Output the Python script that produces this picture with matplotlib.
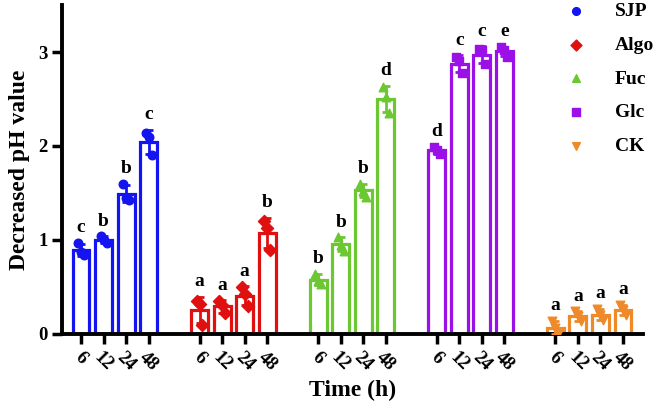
import matplotlib.pyplot as plt
import numpy as np

plt.rcParams['font.family'] = 'Liberation Serif'
plt.rcParams['font.weight'] = 'bold'

groups = ['SJP', 'Algo', 'Fuc', 'Glc', 'CK']
times = ['6', '12', '24', '48']
colors = ['#1414F0', '#E01010', '#6CC832', '#9A10E6', '#EE8A2A']
markers = ['o', 'D', '^', 's', 'v']

# three replicates per time point
sjp = [[0.97, 0.87, 0.84], [1.04, 1.00, 0.97], [1.60, 1.45, 1.43], [2.14, 2.10, 1.90]]
algo = [[0.35, 0.32, 0.10], [0.35, 0.31, 0.22], [0.50, 0.42, 0.30], [1.20, 1.13, 0.89]]
fuc = [[0.64, 0.56, 0.53], [1.03, 0.95, 0.88], [1.60, 1.52, 1.46], [2.63, 2.52, 2.35]]
glc = [[1.99, 1.96, 1.91], [2.95, 2.90, 2.78], [3.03, 3.02, 2.87], [3.05, 3.02, 2.95]]
ck = [[0.14, 0.06, 0.00], [0.24, 0.19, 0.14], [0.27, 0.20, 0.15], [0.31, 0.25, 0.20]]
data = [sjp, algo, fuc, glc, ck]

letters = [['c', 'b', 'b', 'c'],
           ['a', 'a', 'a', 'b'],
           ['b', 'b', 'b', 'd'],
           ['d', 'c', 'c', 'e'],
           ['a', 'a', 'a', 'a']]

fig = plt.figure(figsize=(6.6, 4.19), dpi=100)
ax = fig.add_axes([0.094, 0.203, 0.880, 0.785])

group_step = 5.25
jitter = np.array([-0.13, 0.0, 0.13])
xticks, xlabels = [], []
for g, (name, vals) in enumerate(zip(groups, data)):
    c = colors[g]
    for i, reps in enumerate(vals):
        x = g * group_step + i
        reps = np.array(reps)
        m, sd = reps.mean(), reps.std(ddof=1)
        ax.bar(x, m, width=0.75, facecolor='white', edgecolor=c, linewidth=2.3, zorder=2)
        ax.errorbar(x, m, yerr=sd, color=c, capsize=3, capthick=2, elinewidth=2, zorder=3)
        ax.scatter(x + jitter, reps, marker=markers[g], color=c, s=38, zorder=4,
                   label=name if i == 0 else None)
        top = max(reps.max(), m + sd)
        ax.text(x, top + 0.07, letters[g][i], ha='center', va='bottom',
                fontsize=14, fontweight='bold')
        xticks.append(x)
        xlabels.append(times[i])

ax.set_xlim(-0.84, 4 * group_step + 3 + 0.88)
ax.set_ylim(0, 3.5)
ax.set_yticks([0, 1, 2, 3])
ax.set_xticks(xticks)
ax.set_xticklabels(xlabels, rotation=-45, ha='center', va='top')
ax.tick_params(axis='both', width=2.5, length=7, labelsize=13.5)
ax.tick_params(axis='x', pad=4)
for s in ['top', 'right']:
    ax.spines[s].set_visible(False)
for s in ['left', 'bottom']:
    ax.spines[s].set_linewidth(2.8)

ax.set_ylabel('Decreased pH value', fontsize=17, fontweight='bold', labelpad=6)
ax.set_xlabel('Time (h)', fontsize=17, fontweight='bold', labelpad=4)

ax.legend(loc='upper right', bbox_to_anchor=(1.05, 1.06), frameon=False,
          fontsize=14, labelspacing=0.82, handletextpad=1.0, markerscale=0.9)

plt.savefig('out.png', dpi=100)
